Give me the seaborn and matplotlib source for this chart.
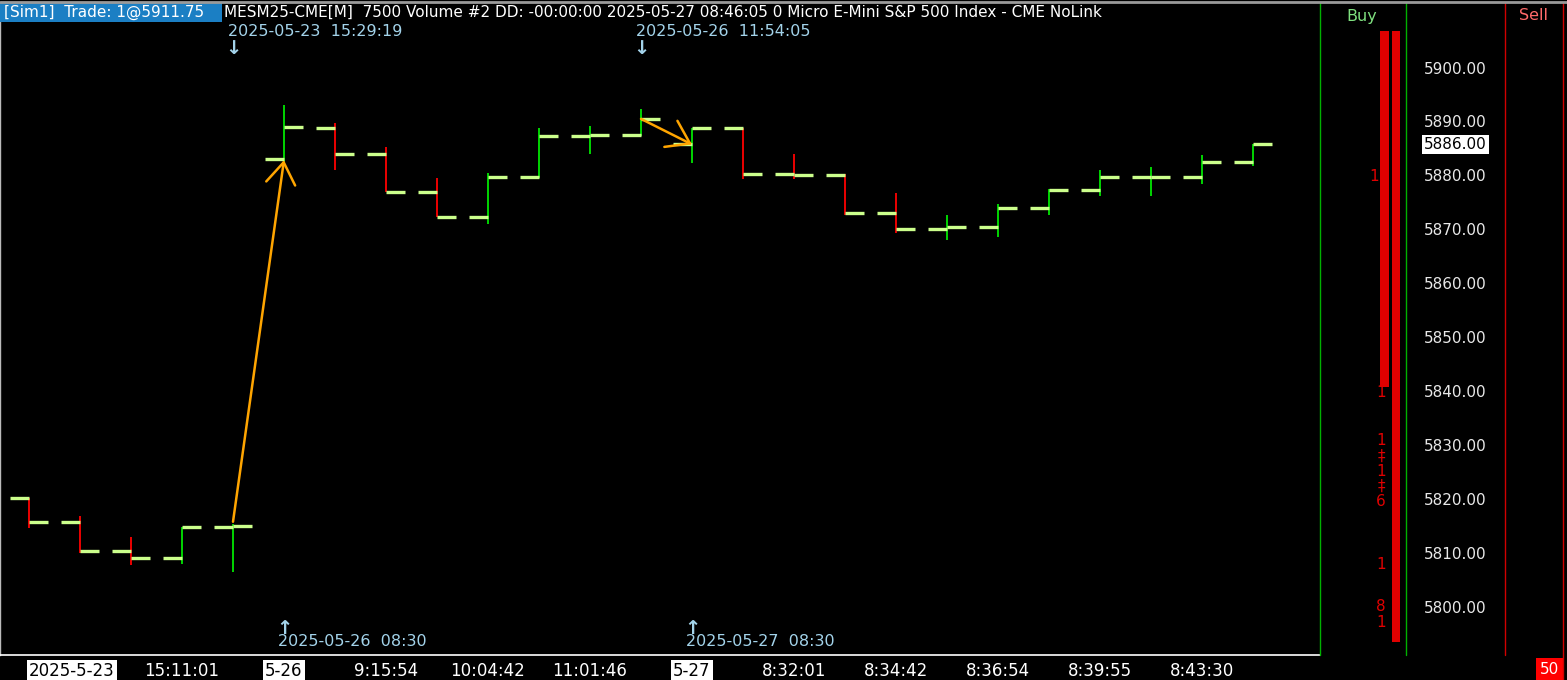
import matplotlib
matplotlib.use("Agg")
import matplotlib.pyplot as plt
import seaborn as sns
from matplotlib.patches import Rectangle

# price bars (one per bar index)
bar_open = [5820.5, 5816, 5810.5, 5809.25, 5815, 5883.25, 5889, 5884.25, 5877.25, 5872.5,
            5880, 5887.5, 5887.75, 5886, 5889, 5880.5, 5880.25, 5873.25, 5870.25, 5870.75,
            5874.25, 5877.5, 5880, 5880, 5882.75]
bar_high = [5820.5, 5817, 5813.25, 5815, 5815.5, 5893.25, 5890, 5885.5, 5879.75, 5880.75,
            5889, 5889.5, 5892.5, 5889, 5889, 5884.25, 5880.5, 5877, 5873, 5875,
            5877.75, 5881.25, 5881.75, 5884, 5886]
bar_low = [5814.75, 5810.25, 5808, 5808.25, 5806.75, 5882.75, 5881.25, 5877.25, 5872.5, 5871.25,
           5879.75, 5884.25, 5887.5, 5882.5, 5879.5, 5879.5, 5873, 5869.5, 5868.25, 5868.75,
           5873, 5876.5, 5876.5, 5878.75, 5882]
bar_close = [5816, 5810.5, 5809.25, 5815, 5815.25, 5889.25, 5884.25, 5877.25, 5872.5, 5880,
             5887.5, 5887.75, 5890.75, 5889, 5880.5, 5880.25, 5873.25, 5870.25, 5870.75, 5874.25,
             5877.5, 5880, 5880, 5882.75, 5886]

tick_bars = [0, 3, 5, 7, 9, 11, 13, 15, 17, 19, 21, 23]
tick_labels = ["2025-5-23", "15:11:01", "5-26", "9:15:54", "10:04:42", "11:01:46",
               "5-27", "8:32:01", "8:34:42", "8:36:54", "8:39:55", "8:43:30"]
date_ticks = ["2025-5-23", "5-26", "5-27"]

# trades: entry bar/price -> exit bar/price
trade_from_bar = [4, 12]
trade_from_price = [5816, 5890.75]
trade_to_bar = [5, 13]
trade_to_price = [5883.1, 5886]

# session markers
top_marker_bars = [4, 12]
top_marker_text = ["2025-05-23  15:29:19", "2025-05-26  11:54:05"]
bottom_marker_bars = [5, 13]
bottom_marker_text = ["2025-05-26  08:30", "2025-05-27  08:30"]

price_levels = [5900, 5890, 5880, 5870, 5860, 5850, 5840, 5830, 5820, 5810, 5800]
last_price = 5886.00

# market depth column
dom_top = 5907
dom_mid = 5841
dom_bottom = 5793.6
dom_label_prices = [5880, 5840, 5831, 5828.2, 5825.4, 5822.6, 5819.8, 5808, 5800.2, 5797.4]
dom_label_text = ["1", "1", "1", "‡", "1", "‡", "6", "1", "8", "1"]

header_left = "[Sim1]  Trade: 1@5911.75"
header_right = ("MESM25-CME[M]  7500 Volume #2 DD: -00:00:00 2025-05-27 08:46:05 0 "
                "Micro E-Mini S&P 500 Index - CME NoLink")

W, H = 1567, 680
Y_TOP, Y_BOT = 3, 655
P_REF, Y_REF, PX_PER_PT = 5900, 69, 5.39
ylim = (P_REF - (Y_BOT - Y_REF) / PX_PER_PT, P_REF + (Y_REF - Y_TOP) / PX_PER_PT)

sns.set_style("dark", {"axes.facecolor": "black", "figure.facecolor": "black"})
plt.rcParams["font.family"] = ["DejaVu Sans"]

fig = plt.figure(figsize=(W / 100, H / 100), dpi=100)
fig.patch.set_facecolor("black")

# main price pane
ax = fig.add_axes([0, 1 - Y_BOT / H, 1320 / W, (Y_BOT - Y_TOP) / H])
ax.set_facecolor("black")
x_left = -29 / 51
ax.set_xlim(x_left, x_left + 1320 / 51)
ax.set_ylim(*ylim)

up = [c >= o for o, c in zip(bar_open, bar_close)]
idx = list(range(len(bar_open)))
ax.vlines(idx, bar_low, bar_high, colors=["#00e600" if u else "#ff0000" for u in up], lw=1.3, zorder=2)
half = 0.38
ax.hlines(bar_open, [i - half for i in idx], idx, colors="#ccff8c", lw=2.4, zorder=3)
ax.hlines(bar_close, idx, [i + half for i in idx], colors="#ccff8c", lw=2.4, zorder=3)

for fb, fp, tb, tp in zip(trade_from_bar, trade_from_price, trade_to_bar, trade_to_price):
    ax.annotate("", xy=(tb, tp), xytext=(fb, fp),
                arrowprops=dict(arrowstyle="->,head_length=1.1,head_width=0.75", color="#ffa500",
                                lw=1.8, shrinkA=0, shrinkB=0, mutation_scale=14), zorder=4)

marker_col = "#a3d3ea"
for b, t in zip(top_marker_bars, top_marker_text):
    ax.annotate(t, xy=(b, H - 31), xycoords=("data", "figure pixels"), xytext=(-5, 0),
                textcoords="offset pixels", ha="left", va="center", color=marker_col, fontsize=11.5)
    ax.annotate("↓", xy=(b, H - 49), xycoords=("data", "figure pixels"), ha="center",
                va="center", color=marker_col, fontsize=14, fontweight="bold")
for b, t in zip(bottom_marker_bars, bottom_marker_text):
    ax.annotate(t, xy=(b, H - 642), xycoords=("data", "figure pixels"), xytext=(-6, 0),
                textcoords="offset pixels", ha="left", va="center", color=marker_col, fontsize=11.5)
    ax.annotate("↑", xy=(b, H - 628), xycoords=("data", "figure pixels"), ha="center",
                va="center", color=marker_col, fontsize=14, fontweight="bold")

ax.set_xticks(tick_bars)
ax.set_xticklabels(tick_labels)
ax.set_yticks([])
ax.tick_params(axis="x", colors="white", direction="out", length=3, width=1, pad=2,
               labelsize=12, labelcolor="white")
for lab in ax.get_xticklabels():
    if lab.get_text() in date_ticks:
        lab.set_color("black")
        lab.set_bbox(dict(facecolor="white", edgecolor="none", pad=1.5))
    if lab.get_text() == tick_labels[0]:
        lab.set_horizontalalignment("left")
for side in ["top", "right"]:
    ax.spines[side].set_visible(False)
ax.spines["bottom"].set_color("white")
ax.spines["bottom"].set_linewidth(1.2)
ax.spines["left"].set_color("#bbbbbb")
ax.spines["left"].set_linewidth(1)

# right pane: depth column and price scale
axp = fig.add_axes([1320 / W, 1 - Y_BOT / H, (W - 1320) / W, (Y_BOT - Y_TOP) / H])
axp.set_facecolor("black")
axp.set_xlim(1320, W)
axp.set_ylim(*ylim)
axp.axis("off")
axp.bar([1384.5], [dom_top - dom_mid], bottom=[dom_mid], width=9, color="#e00000",
        linewidth=0, zorder=2)
axp.bar([1395.5], [dom_top - dom_bottom], bottom=[dom_bottom], width=8, color="#e00000",
        linewidth=0, zorder=2)
for p, t in zip(dom_label_prices, dom_label_text):
    # labels sit left of the wide part of the column, closer in below it
    axp.text(1374 if p > dom_mid else 1381, p, t, color="#e00000", fontsize=11,
             ha="center", va="center")
for p in price_levels:
    axp.text(1424, p, f"{p:.2f}", color="#e8e8e8", fontsize=11, ha="left", va="center")
axp.text(1424, last_price, f"{last_price:.2f}", color="black", fontsize=11, ha="left", va="center",
         bbox=dict(facecolor="white", edgecolor="none", pad=1.5), zorder=5)

fig.add_artist(plt.Line2D([1320 / W] * 2, [1 - Y_BOT / H, 1 - Y_TOP / H], color="#00b000", lw=1))
fig.add_artist(plt.Line2D([1406 / W] * 2, [1 - Y_BOT / H, 1 - Y_TOP / H], color="#00b000", lw=1))
fig.add_artist(plt.Line2D([1505 / W] * 2, [1 - Y_BOT / H, 1 - Y_TOP / H], color="#d00000", lw=1))
fig.add_artist(plt.Line2D([1563 / W] * 2, [0, 1 - Y_TOP / H], color="#d00000", lw=1))
fig.add_artist(plt.Line2D([0, 1], [1 - 1.5 / H] * 2, color="#9a9a9a", lw=2))
fig.text(1362 / W, 1 - 16 / H, "Buy", color="#7fe07f", fontsize=11.5, ha="center", va="center")
fig.text(1533 / W, 1 - 16 / H, "Sell", color="#ff6a6a", fontsize=11.5, ha="center", va="center")

fig.add_artist(Rectangle((1536 / W, 0), 27 / W, 22 / H, transform=fig.transFigure,
                         facecolor="#ff0000", edgecolor="none"))
fig.text(1549.5 / W, 11 / H, "50", color="white", fontsize=11, ha="center", va="center")

# header
fig.add_artist(Rectangle((0, 1 - 22 / H), 222 / W, 19 / H, transform=fig.transFigure,
                         facecolor="#1b7fc4", edgecolor="none"))
fig.text(4 / W, 1 - 12.5 / H, header_left, color="white", fontsize=11, ha="left", va="center")
fig.text(224 / W, 1 - 12.5 / H, header_right, color="white", fontsize=11, ha="left", va="center")

fig.savefig("out.png", dpi=100, facecolor="black")
